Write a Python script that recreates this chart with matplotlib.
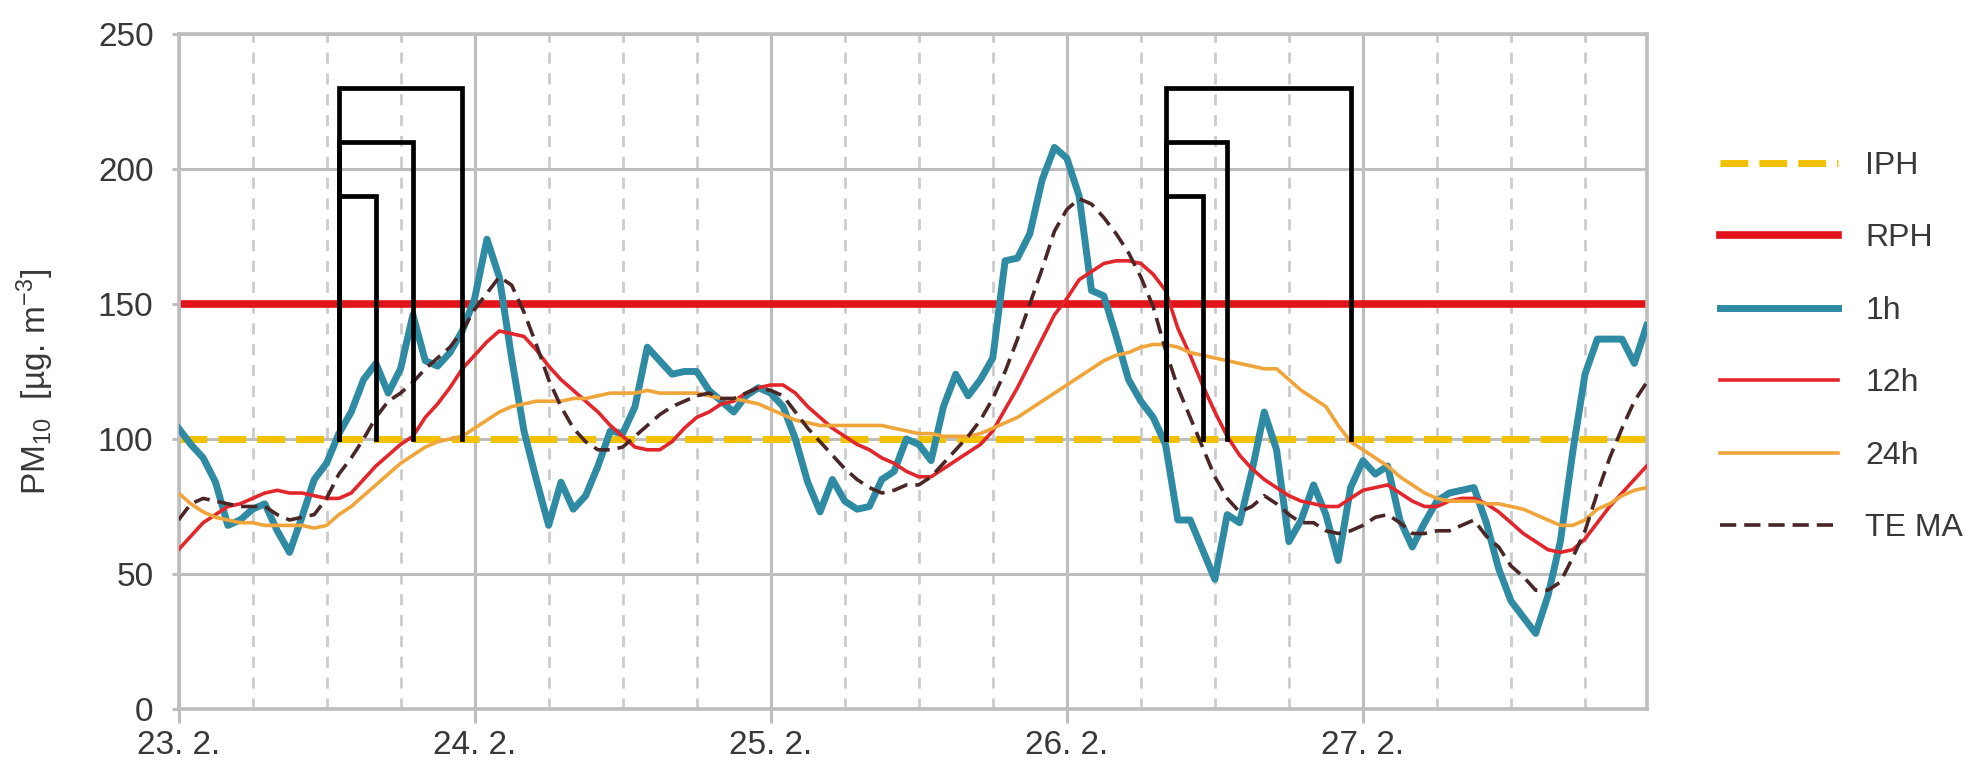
import matplotlib
matplotlib.use("Agg")
import matplotlib.pyplot as plt
from matplotlib.ticker import MultipleLocator, FixedLocator
from matplotlib.lines import Line2D

plt.rcParams['font.family'] = ['Liberation Sans', 'DejaVu Sans']
plt.rcParams['mathtext.fontset'] = 'custom'
plt.rcParams['mathtext.rm'] = 'Liberation Sans'
plt.rcParams['mathtext.it'] = 'Liberation Sans'

# ---------------- data (hourly, 23.2. 00:00 = hour 0) ----------------
day_labels = ["23. 2.", "24. 2.", "25. 2.", "26. 2.", "27. 2."]
day_ticks = [0, 24, 48, 72, 96]

pm_1h = [104, 98, 93, 84, 68, 70, 74, 76, 66, 58, 71, 85, 91, 102, 110, 122, 128, 117, 126, 146,
         129, 127, 132, 140, 152, 174, 160, 130, 103, 85, 68, 84, 74, 79, 90, 103, 102, 112, 134, 129,
         124, 125, 125, 118, 114, 110, 116, 119, 117, 112, 100, 84, 73, 85, 77, 74, 75, 85, 88, 100,
         98, 92, 112, 124, 116, 122, 130, 166, 167, 176, 196, 208, 204, 190, 155, 153, 138, 122, 114, 108,
         98, 70, 70, 59, 48, 72, 69, 88, 110, 96, 62, 70, 83, 72, 55, 82, 92, 87, 90, 70,
         60, 69, 77, 80, 81, 82, 69, 52, 40, 34, 28, 42, 62, 95, 124, 137, 137, 137, 128, 142]

pm_12h = [59, 64, 69, 72, 75, 76, 78, 80, 81, 80, 80, 79, 78, 78, 80, 85, 90, 94, 98, 101,
          108, 113, 119, 126, 131, 136, 140, 139, 138, 133, 127, 122, 118, 114, 110, 105, 101, 97, 96, 96,
          99, 104, 108, 110, 113, 114, 117, 119, 120, 120, 117, 112, 108, 104, 101, 98, 96, 93, 91, 88,
          86, 86, 89, 92, 95, 98, 103, 111, 119, 128, 137, 146, 152, 159, 162, 165, 166, 166, 165, 161,
          155, 141, 131, 120, 110, 101, 94, 89, 85, 82, 79, 77, 76, 75, 75, 78, 81, 82, 83, 80,
          77, 75, 75, 77, 78, 78, 76, 73, 69, 65, 62, 59, 58, 59, 63, 69, 75, 80, 85, 90]

pm_24h = [80, 76, 73, 71, 70, 69, 69, 68, 68, 68, 68, 67, 68, 72, 75, 79, 83, 87, 91, 94,
          97, 99, 100, 101, 104, 107, 110, 112, 113, 114, 114, 114, 115, 115, 116, 117, 117, 117, 118, 117,
          117, 117, 117, 116, 115, 115, 114, 113, 111, 109, 107, 106, 105, 105, 105, 105, 105, 105, 104, 103,
          102, 102, 101, 101, 101, 102, 104, 106, 108, 111, 114, 117, 120, 123, 126, 129, 131, 132, 134, 135,
          135, 134, 132, 131, 130, 129, 128, 127, 126, 126, 122, 118, 115, 112, 105, 99, 96, 93, 90, 86,
          83, 80, 78, 77, 77, 77, 76, 76, 75, 74, 72, 70, 68, 68, 70, 74, 76, 79, 81, 82]

pm_tema = [70, 76, 78, 77, 76, 75, 75, 75, 72, 70, 71, 72, 78, 87, 93, 100, 108, 114, 117, 121,
           126, 130, 134, 140, 148, 154, 160, 157, 147, 135, 122, 112, 104, 99, 96, 96, 97, 101, 105, 109,
           112, 114, 116, 117, 115, 115, 117, 119, 118, 116, 110, 104, 99, 94, 89, 85, 82, 80, 81, 83,
           83, 86, 91, 96, 101, 107, 115, 125, 137, 150, 163, 177, 185, 189, 187, 182, 176, 169, 160, 149,
           133, 119, 108, 97, 86, 78, 73, 75, 79, 76, 72, 69, 69, 66, 65, 66, 68, 71, 72, 69,
           65, 65, 66, 66, 68, 70, 64, 60, 53, 49, 44, 44, 47, 56, 66, 80, 93, 104, 114, 121]

hours = list(range(len(pm_1h)))

iph_level = 100
rph_level = 150

# exceedance brackets: start hour, end hours (TEMA, 12h, 24h), bracket heights
bracket_starts = [13, 80]
bracket_ends = [[16, 19, 23], [83, 85, 95]]
bracket_tops = [190, 210, 230]

y_ticks = [0, 50, 100, 150, 200, 250]

# ---------------- styling ----------------
c_iph = "#F2C100"
c_rph = "#E0141A"
c_1h = "#2F8BA3"
c_12h = "#E3262B"
c_24h = "#F0A53A"
c_tema = "#4A2626"
c_grid = "#BEBEBE"
c_text = "#383838"

W, H = 1973, 768
fig = plt.figure(figsize=(W / 100, H / 100), dpi=100)
ax_l, ax_r, ax_t, ax_b = 178.5, 1646.7, 34, 709
ax = fig.add_axes([ax_l / W, 1 - ax_b / H, (ax_r - ax_l) / W, (ax_b - ax_t) / H])

ax.set_xlim(0, hours[-1])
ax.set_ylim(0, 250)

# grid
ax.xaxis.set_major_locator(FixedLocator(day_ticks))
ax.xaxis.set_minor_locator(MultipleLocator(6))
ax.yaxis.set_major_locator(FixedLocator(y_ticks))
ax.set_xticklabels(day_labels)
ax.grid(which='major', axis='both', color=c_grid, lw=2.2, zorder=0)
ax.grid(which='minor', axis='x', color="#CCCCCC", lw=2.0, ls=(0, (4, 3.5)), zorder=0)
ax.set_axisbelow(True)
for s in ax.spines.values():
    s.set_color(c_grid)
    s.set_linewidth(2.6)

ax.tick_params(axis='x', which='major', length=10, width=2.2, color=c_grid,
               labelsize=24, labelcolor=c_text, pad=5)
ax.tick_params(axis='x', which='minor', length=0)
ax.tick_params(axis='y', which='major', length=5, width=2.2, color=c_grid,
               labelsize=24, labelcolor=c_text, pad=13)

# limit lines
ax.axhline(iph_level, color=c_iph, lw=5, ls=(0, (4, 1.6)), zorder=2)
ax.axhline(rph_level, color=c_rph, lw=5.5, zorder=2)

# series
ax.plot(hours, pm_1h, color=c_1h, lw=5, zorder=3, solid_joinstyle='round')
ax.plot(hours, pm_12h, color=c_12h, lw=2.6, zorder=4)
ax.plot(hours, pm_24h, color=c_24h, lw=2.6, zorder=4)
ax.plot(hours, pm_tema, color=c_tema, lw=2.6, ls=(0, (4.5, 2.2)), zorder=5)

# brackets
for s, ends in zip(bracket_starts, bracket_ends):
    for e, top in zip(ends, bracket_tops):
        ax.plot([s, s, e, e], [iph_level, top, top, iph_level], color="black",
                lw=3.4, solid_joinstyle='miter', zorder=6)

ax.set_ylabel(r"PM$_{\mathrm{10}}$  [µg. m$^{\mathrm{-3}}$]", fontsize=24, color=c_text)
ax.yaxis.set_label_coords(-(ax_l - 56) / (ax_r - ax_l), 0.485)

handles = [
    Line2D([], [], color=c_iph, lw=5, ls=(0, (4, 1.6))),
    Line2D([], [], color=c_rph, lw=5.5),
    Line2D([], [], color=c_1h, lw=5),
    Line2D([], [], color=c_12h, lw=2.6),
    Line2D([], [], color=c_24h, lw=2.6),
    Line2D([], [], color=c_tema, lw=2.6, ls=(0, (4.5, 2.2))),
]
labels = ["IPH", "RPH", "1h", "12h", "24h", "TE MA"]
leg = fig.legend(handles, labels, loc='upper left', bbox_to_anchor=(1720 / W, 1 - 151 / H),
                 frameon=False, fontsize=23, handlelength=3.7, handletextpad=0.85,
                 labelspacing=1.33, borderpad=0, borderaxespad=0)
for t in leg.get_texts():
    t.set_color(c_text)

fig.savefig("out.png", dpi=100)
